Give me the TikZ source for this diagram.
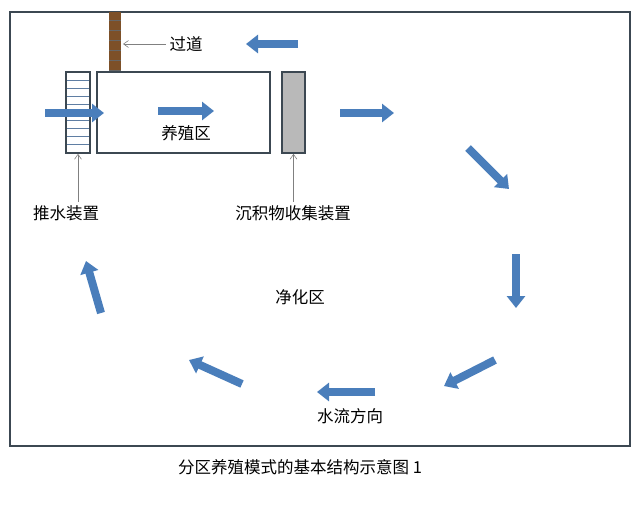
\documentclass[tikz,border=0pt]{standalone}
\usepackage{fontspec}
\setmainfont{Noto Sans CJK SC}
\usetikzlibrary{arrows.meta}
\definecolor{flowblue}{RGB}{74,126,187}
\definecolor{edgegray}{RGB}{60,72,82}
\definecolor{wood}{RGB}{125,80,40}

\begin{document}
\begin{tikzpicture}[x=1pt,y=-1pt,
    flow/.style={flowblue,line width=8pt,-{Triangle[length=12pt,width=18pt]}},
    thin/.style={gray,line width=0.6pt,-{Straight Barb[length=5pt,width=7pt]}},
    box/.style={draw=edgegray,line width=1.6pt},
    every node/.style={font=\fontsize{16.5}{19}\selectfont}]
    \useasboundingbox (0,0) rectangle (640,504);
	% frame and equipment
    \draw[edgegray,line width=1.5pt] (10,12) rectangle (630,446);
    \fill[wood] (109,12) rectangle (121,72);
    \foreach \y in {20,30,...,70} \draw[black!60,line width=0.5pt] (109,\y) -- (121,\y);
    \node[box,minimum width=173pt,minimum height=81pt,inner sep=0pt] (tank) at (183.5,112.5) {};
    \node[box,minimum width=24pt,minimum height=81pt,inner sep=0pt] (pump) at (78,112.5) {};
    \foreach \y in {80,88,...,148} \draw[flowblue!60!gray,line width=0.4pt] (67,\y) -- (89,\y);
    \node[box,fill=gray!55,minimum width=23pt,minimum height=81pt,inner sep=0pt] (sed) at (293.5,112.5) {};
    \coordinate (walk) at (123,44);

	% labels
    \node[draw=none] (walkL) at (186,44) {过道};
    \node[draw=none] (tankL) at (186,133) {养殖区};
    \node[draw=none] (pumpL) at (66,213) {推水装置};
    \node[draw=none] (sedL) at (293,213) {沉积物收集装置};
    \node[draw=none] (cleanL) at (300,297) {净化区};
    \node[draw=none] (dirL) at (350,416) {水流方向};
    \node[draw=none] (cap) at (300,467) {分区养殖模式的基本结构示意图 1};

    \draw[thin] (walkL.west) -- (walk);
    \draw[thin] (pumpL.north -| pump) -- (pump.south);
    \draw[thin] (sedL.north -| sed) -- (sed.south);

	% water flow
    \draw[flow] (298,44) -- (246,44);
    \draw[flow] (45,113) -- (104,113);
    \draw[flow] (158,111) -- (214,111);
    \draw[flow] (340,113) -- (394,113);
    \draw[flow] (468,148) -- (509,189);
    \draw[flow] (516,254) -- (516,308);
    \draw[flow] (495,360) -- (444,386);
    \draw[flow] (375,392) -- (317,392);
    \draw[flow] (242,384) -- (189,360);
    \draw[flow] (101,313) -- (86,261);
\end{tikzpicture}
\end{document}
